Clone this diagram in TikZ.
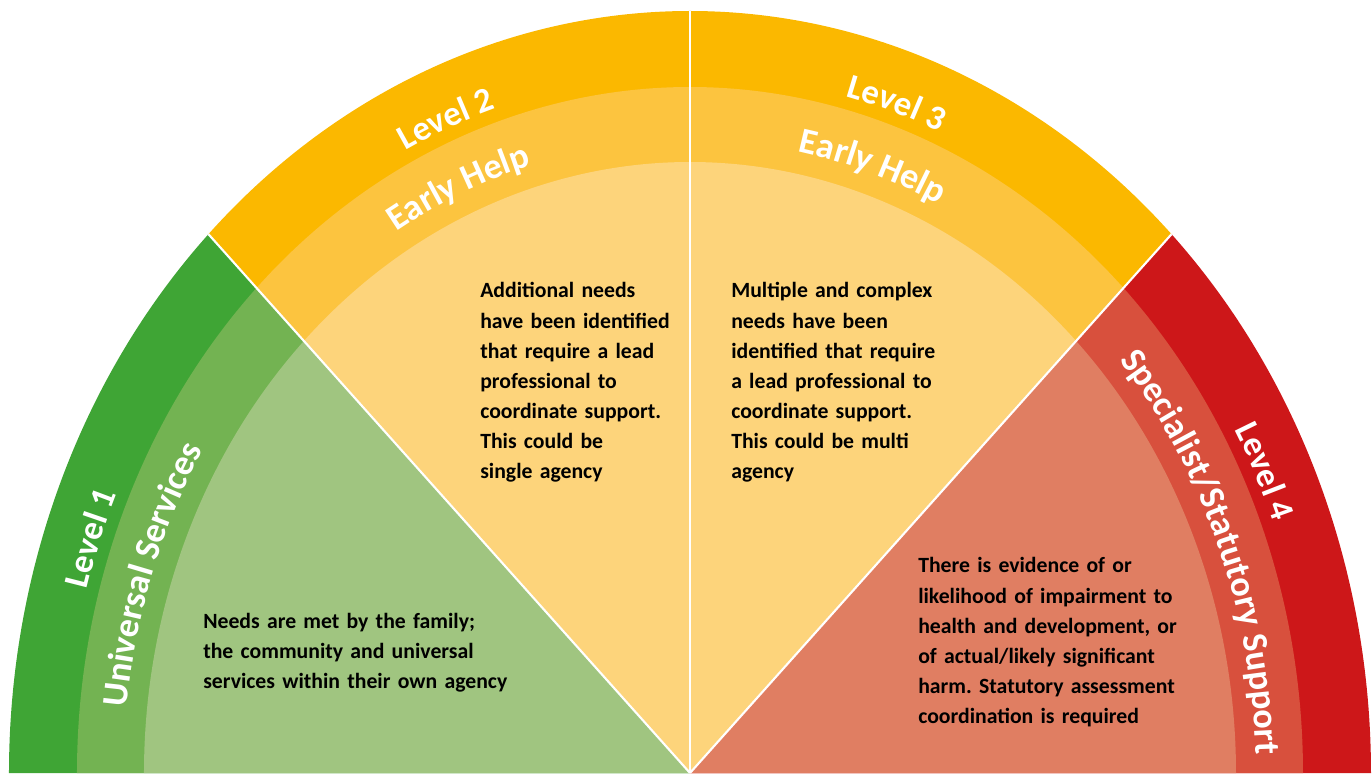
\documentclass[tikz,border=0pt]{standalone}
\usepackage{fontspec}
\setmainfont{Carlito}
\usetikzlibrary{decorations.text}
\definecolor{gA}{HTML}{3FA535}
\definecolor{gB}{HTML}{73B352}
\definecolor{gC}{HTML}{A0C580}
\definecolor{oA}{HTML}{FBB800}
\definecolor{oB}{HTML}{FCC43F}
\definecolor{oC}{HTML}{FDD47B}
\definecolor{rA}{HTML}{CD1719}
\definecolor{rB}{HTML}{D8503D}
\definecolor{rC}{HTML}{E07E62}
\newcommand\bandfont{\fontsize{26}{26}\selectfont\bfseries}
\newcommand\bandfontB{\fontsize{27}{27}\selectfont\bfseries}
\frenchspacing
\tikzset{
  body/.style={font=\fontsize{16.3}{22.6}\selectfont\bfseries, align=left, inner sep=0pt, text width=260pt, anchor=base west, text=black},
  divider/.style={draw=white, line width=1.6pt},
  bandlabel/.style={decorate, decoration={text along path, text align=center, text color=white}}
}
\begin{document}
\begin{tikzpicture}[x=0.75pt, y=0.75pt]
\useasboundingbox (-690,-3) rectangle (682,773);
% Level 1 sector
\fill[gA] (0,0) -- (180:681 and 762) arc[start angle=180, end angle=135, x radius=681, y radius=762] -- cycle;
\fill[gB] (0,0) -- (180:613 and 686) arc[start angle=180, end angle=135, x radius=613, y radius=686] -- cycle;
\fill[gC] (0,0) -- (180:546 and 611) arc[start angle=180, end angle=135, x radius=546, y radius=611] -- cycle;
% Level 2 sector
\fill[oA] (0,0) -- (135:681 and 762) arc[start angle=135, end angle=90, x radius=681, y radius=762] -- cycle;
\fill[oB] (0,0) -- (135:613 and 686) arc[start angle=135, end angle=90, x radius=613, y radius=686] -- cycle;
\fill[oC] (0,0) -- (135:546 and 611) arc[start angle=135, end angle=90, x radius=546, y radius=611] -- cycle;
% Level 3 sector
\fill[oA] (0,0) -- (90:681 and 762) arc[start angle=90, end angle=45, x radius=681, y radius=762] -- cycle;
\fill[oB] (0,0) -- (90:613 and 686) arc[start angle=90, end angle=45, x radius=613, y radius=686] -- cycle;
\fill[oC] (0,0) -- (90:546 and 611) arc[start angle=90, end angle=45, x radius=546, y radius=611] -- cycle;
% Level 4 sector
\fill[rA] (0,0) -- (45:681 and 762) arc[start angle=45, end angle=0, x radius=681, y radius=762] -- cycle;
\fill[rB] (0,0) -- (45:613 and 686) arc[start angle=45, end angle=0, x radius=613, y radius=686] -- cycle;
\fill[rC] (0,0) -- (45:546 and 611) arc[start angle=45, end angle=0, x radius=546, y radius=611] -- cycle;
% dividers
\coordinate (c) at (0,0);
\coordinate (d1) at (135:681 and 762);
\coordinate (d2) at (90:681 and 762);
\coordinate (d3) at (45:681 and 762);
\draw[divider] (c) -- (d1);
\draw[divider] (c) -- (d2);
\draw[divider] (c) -- (d3);
% band labels
\path[bandlabel, decoration={text={|\bandfont|Level 1}}] (195:625 and 699) arc[start angle=195, end angle=125, x radius=625, y radius=699];
\path[bandlabel, decoration={text={|\bandfontB|Universal Services}}] (201:566 and 633) arc[start angle=201, end angle=121, x radius=566, y radius=633];
\path[bandlabel, decoration={text={|\bandfont|Level 2}}] (146.8:625 and 699) arc[start angle=146.8, end angle=76.8, x radius=625, y radius=699];
\path[bandlabel, decoration={text={|\bandfontB|Early Help}}] (148:566 and 633) arc[start angle=148, end angle=78, x radius=566, y radius=633];
\path[bandlabel, decoration={text={|\bandfont|Level 3}}] (106.7:625 and 699) arc[start angle=106.7, end angle=36.7, x radius=625, y radius=699];
\path[bandlabel, decoration={text={|\bandfontB|Early Help}}] (107.1:566 and 633) arc[start angle=107.1, end angle=37.1, x radius=566, y radius=633];
\path[bandlabel, decoration={text={|\bandfont|Level 4}}] (61:625 and 699) arc[start angle=61, end angle=-9, x radius=625, y radius=699];
\path[bandlabel, decoration={text={|\bandfontB|Specialist/Statutory Support}}] (67:566 and 633) arc[start angle=67, end angle=-23, x radius=566, y radius=633];
% body texts
\node[body] (t1) at (-487,145) {Needs are met by the family;\\the community and universal\\services within their own agency};
\node[body] (t2) at (-210,475) {Additional needs\\have been identified\\that require a lead\\professional to\\coordinate support.\\This could be\\single agency};
\node[body] (t3) at (41,475) {Multiple and complex\\needs have been\\identified that require\\a lead professional to\\coordinate support.\\This could be multi\\agency};
\node[body] (t4) at (228,200) {There is evidence of or\\likelihood of impairment to\\health and development, or\\of actual/likely significant\\harm. Statutory assessment\\coordination is required};
\end{tikzpicture}
\end{document}
